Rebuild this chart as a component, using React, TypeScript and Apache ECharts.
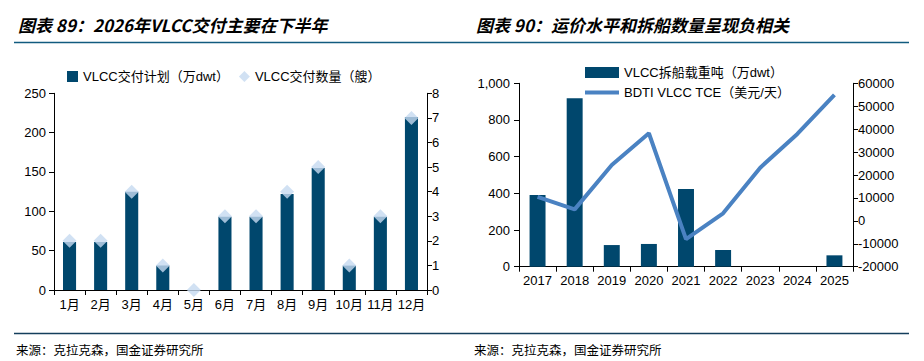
import React, { useEffect, useRef } from "react";
import * as echarts from "echarts";

const months = ["1月", "2月", "3月", "4月", "5月", "6月", "7月", "8月", "9月", "10月", "11月", "12月"];
const deliveryDwt = [61, 61, 125, 31, 0, 93, 93, 122, 155, 31, 93, 220];
const deliveryCount = [2, 2, 4, 1, 0, 3, 3, 4, 5, 1, 3, 7];

const years = ["2017", "2018", "2019", "2020", "2021", "2022", "2023", "2024", "2025"];
const scrapDwt = [391, 918, 118, 124, 424, 91, 0, 0, 62];
const bdtiTce = [10500, 5000, 24400, 38200, -8000, 3300, 23200, 37900, 54900];

const title1 = "图表 89：2026年VLCC交付主要在下半年";
const title2 = "图表 90：运价水平和拆船数量呈现负相关";
const source = "来源：克拉克森，国金证券研究所";

const FONT = "'Liberation Sans', Arial, 'Noto Sans CJK SC', sans-serif";
const BAR = "#00476d";
const LINE = "#4a82c2";
const DIAMOND = "#c6d9f0";

export default function App() {
  const ref = useRef<HTMLDivElement>(null);
  useEffect(() => {
    if (!ref.current) return;
    const chart = echarts.init(ref.current, undefined, { renderer: "svg" });
    const axisLabel = { color: "#000", fontSize: 13, fontFamily: FONT };
    const axisLine = { show: true, lineStyle: { color: "#000", width: 1 } };
    const axisTick = { show: true, inside: false, length: 5, lineStyle: { color: "#000" } };
    chart.setOption({
      animation: false,
      textStyle: { fontFamily: FONT },
      grid: [
        { left: 54, right: 497, top: 93.3, bottom: 71, containLabel: false },
        { left: 519, right: 71, top: 83.3, bottom: 94.3, containLabel: false },
      ],
      legend: [
        {
          left: 67,
          top: 70,
          padding: 0,
          itemWidth: 11,
          itemHeight: 11,
          itemGap: 10,
          textStyle: { color: "#000", fontSize: 13, fontFamily: FONT },
          data: [
            { name: "VLCC交付计划（万dwt）", icon: "rect" },
            { name: "VLCC交付数量（艘）", icon: "diamond" },
          ],
        },
        {
          left: 585,
          top: 66,
          padding: 0,
          orient: "vertical",
          itemWidth: 34,
          itemHeight: 11,
          itemGap: 7,
          textStyle: { color: "#000", fontSize: 13, fontFamily: FONT },
          data: [
            { name: "VLCC拆船载重吨（万dwt）", icon: "rect" },
            { name: "BDTI VLCC TCE（美元/天）", icon: "path://M0,0 L34,0 L34,4 L0,4 Z" },
          ],
        },
      ],
      xAxis: [
        {
          type: "category",
          gridIndex: 0,
          data: months,
          boundaryGap: true,
          axisLine,
          axisTick: { ...axisTick, interval: 0 },
          axisLabel: { ...axisLabel, margin: 8, interval: 0 },
        },
        {
          type: "category",
          gridIndex: 1,
          data: years,
          boundaryGap: true,
          axisLine,
          axisTick: { ...axisTick, interval: 0 },
          axisLabel: { ...axisLabel, margin: 7, interval: 0 },
        },
      ],
      yAxis: [
        {
          type: "value",
          gridIndex: 0,
          min: 0,
          max: 250,
          interval: 50,
          axisLine,
          axisTick,
          splitLine: { show: false },
          axisLabel: { ...axisLabel, margin: 8 },
        },
        {
          type: "value",
          gridIndex: 0,
          position: "right",
          min: 0,
          max: 8,
          interval: 1,
          axisLine,
          axisTick,
          splitLine: { show: false },
          axisLabel: { ...axisLabel, margin: 5 },
        },
        {
          type: "value",
          gridIndex: 1,
          min: 0,
          max: 1000,
          interval: 200,
          axisLine,
          axisTick,
          splitLine: { show: false },
          axisLabel: {
            ...axisLabel,
            margin: 9,
            formatter: (v: number) => v.toLocaleString("en-US"),
          },
        },
        {
          type: "value",
          gridIndex: 1,
          position: "right",
          min: -20000,
          max: 60000,
          interval: 10000,
          axisLine,
          axisTick,
          splitLine: { show: false },
          axisLabel: { ...axisLabel, margin: 5, formatter: (v: number) => String(v) },
        },
      ],
      series: [
        {
          name: "VLCC交付计划（万dwt）",
          type: "bar",
          xAxisIndex: 0,
          yAxisIndex: 0,
          data: deliveryDwt,
          barWidth: "42%",
          itemStyle: { color: BAR },
          z: 2,
        },
        {
          name: "VLCC交付数量（艘）",
          type: "scatter",
          xAxisIndex: 0,
          yAxisIndex: 1,
          data: deliveryCount,
          symbol: "diamond",
          symbolSize: 14,
          itemStyle: { color: DIAMOND },
          z: 3,
        },
        {
          name: "VLCC拆船载重吨（万dwt）",
          type: "bar",
          xAxisIndex: 1,
          yAxisIndex: 2,
          data: scrapDwt,
          barWidth: "43%",
          itemStyle: { color: BAR },
          z: 2,
        },
        {
          name: "BDTI VLCC TCE（美元/天）",
          type: "line",
          xAxisIndex: 1,
          yAxisIndex: 3,
          data: bdtiTce,
          symbol: "none",
          showSymbol: false,
          lineStyle: { color: LINE, width: 4 },
          itemStyle: { color: LINE },
          z: 3,
        },
      ],
      graphic: [
        {
          type: "text",
          left: 18,
          top: 16,
          style: {
            text: title1,
            fontSize: 17,
            fontWeight: "bold",
            fontStyle: "italic",
            fontFamily: "'Noto Sans CJK SC', 'Liberation Sans', sans-serif",
            fill: "#000",
          },
        },
        {
          type: "text",
          left: 476,
          top: 16,
          style: {
            text: title2,
            fontSize: 17,
            fontWeight: "bold",
            fontStyle: "italic",
            fontFamily: "'Noto Sans CJK SC', 'Liberation Sans', sans-serif",
            fill: "#000",
          },
        },
        {
          type: "line",
          shape: { x1: 14, y1: 42.5, x2: 909, y2: 42.5 },
          style: { stroke: "#115b7f", lineWidth: 1.5 },
        },
        {
          type: "line",
          shape: { x1: 14, y1: 333.5, x2: 909, y2: 333.5 },
          style: { stroke: "#143e5c", lineWidth: 1.5 },
        },
        {
          type: "text",
          left: 16,
          top: 343,
          style: {
            text: source,
            fontSize: 12.5,
            fontFamily: "'Noto Sans CJK SC', sans-serif",
            fill: "#000",
          },
        },
        {
          type: "text",
          left: 474,
          top: 343,
          style: {
            text: source,
            fontSize: 12.5,
            fontFamily: "'Noto Sans CJK SC', sans-serif",
            fill: "#000",
          },
        },
      ],
    });
    return () => chart.dispose();
  }, []);
  return (
    <div
      ref={ref}
      style={{ position: "absolute", left: 0, top: 0, width: 924, height: 361, background: "#fff" }}
    />
  );
}
